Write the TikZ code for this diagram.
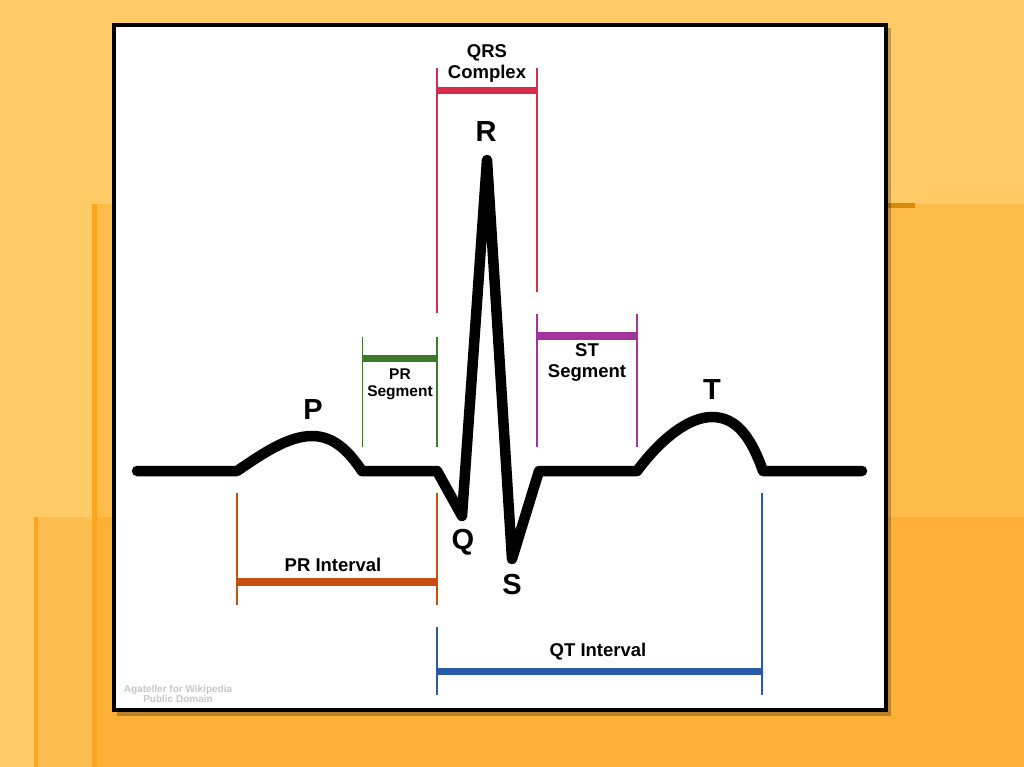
\documentclass[tikz,border=0pt]{standalone}
\usepackage{fontspec}
\setmainfont{Liberation Sans}
\definecolor{bgA}{HTML}{FECA66}
\definecolor{bgB}{HTML}{FDBB47}
\definecolor{bgC}{HTML}{FDB035}
\definecolor{bgL}{HTML}{FDBD50}
\definecolor{stripe}{HTML}{FBA520}
\definecolor{accent}{HTML}{D98A08}
\definecolor{qrsred}{HTML}{D92C4C}
\definecolor{prgreen}{HTML}{3F7A28}
\definecolor{stmag}{HTML}{A3349C}
\definecolor{prorange}{HTML}{C6500F}
\definecolor{qtblue}{HTML}{2B5AA6}
\tikzset{
  ecg/.style={line width=10.5pt, line cap=round, line join=round, black},
  tick/.style={line width=1.4pt},
  bar/.style={line width=7.5pt},
  wave/.style={font=\bfseries\fontsize{29}{29}\selectfont, inner sep=0pt},
  lab/.style={font=\bfseries\fontsize{18.5}{21}\selectfont, inner sep=0pt, align=center},
  labsm/.style={font=\bfseries\fontsize{15.5}{17}\selectfont, inner sep=0pt, align=center},
}
\begin{document}
\begin{tikzpicture}[x=1pt,y=-1pt]
\useasboundingbox (0,0) rectangle (1024,767);
% background
\fill[bgA] (0,0) rectangle (1024,767);
\fill[bgB] (92,204) rectangle (1024,767);
\fill[bgL] (35,517) rectangle (92,767);
\fill[bgC] (97,517) rectangle (1024,767);
\fill[stripe] (92,204) rectangle (97,767);
\fill[stripe] (34,517) rectangle (38,767);
\fill[accent] (887,203) rectangle (915,208);
% panel
\fill[black, opacity=0.25] (117,28) rectangle (891,716);
\filldraw[fill=white, draw=black, line width=4pt] (114,25.5) rectangle (886,710);
% ECG trace
\coordinate (s0) at (137,471);
\coordinate (p0) at (237,471);
\coordinate (pk) at (312,436);
\coordinate (p1) at (362,471);
\coordinate (q0) at (437,471);
\coordinate (qq) at (462,516);
\coordinate (rr) at (487,160);
\coordinate (ss) at (512,559);
\coordinate (s1) at (539,471);
\coordinate (t0) at (637,471);
\coordinate (tk) at (712,417);
\coordinate (t1) at (763,471);
\coordinate (e0) at (862,471);
\draw[ecg] (s0) -- (p0) .. controls (262,454) and (288,436) .. (pk)
  .. controls (333,436) and (348,450) .. (p1) -- (q0) -- (qq) -- (rr) -- (ss) -- (s1) -- (t0)
  .. controls (660,440) and (688,417) .. (tk) .. controls (738,417) and (752,440) .. (t1) -- (e0);
% wave letters
\node[wave] (P) at (313,410) {P};
\node[wave] (R) at (486,132) {R};
\node[wave] (Q) at (463,542) {Q};
\node[wave] (S) at (512,585) {S};
\node[wave] (T) at (712,390) {T};
% QRS complex
\coordinate (qa) at (437,68.5); \coordinate (qb) at (437,313);
\coordinate (qc) at (537,68.5); \coordinate (qd) at (537,292);
\draw[tick, qrsred] (qa) -- (qb);
\draw[tick, qrsred] (qc) -- (qd);
\coordinate (qbl) at (437,90.5); \coordinate (qbr) at (537,90.5);
\draw[bar, qrsred] (qbl) -- (qbr);
\node[lab] (qrs) at (487,63) {QRS\\Complex};
% PR segment
\coordinate (pga) at (362.5,337); \coordinate (pgb) at (362.5,447);
\coordinate (pgc) at (437,337); \coordinate (pgd) at (437,447);
\draw[tick, prgreen] (pga) -- (pgb);
\draw[tick, prgreen] (pgc) -- (pgd);
\coordinate (pgl) at (362.5,358.5); \coordinate (pgr) at (437,358.5);
\draw[bar, prgreen] (pgl) -- (pgr);
\node[labsm] (prs) at (400,384) {PR\\Segment};
% ST segment
\coordinate (sta) at (537,314); \coordinate (stb) at (537,447);
\coordinate (stc) at (637,314); \coordinate (std) at (637,447);
\draw[tick, stmag] (sta) -- (stb);
\draw[tick, stmag] (stc) -- (std);
\coordinate (stl) at (537,336); \coordinate (str) at (637,336);
\draw[bar, stmag] (stl) -- (str);
\node[lab] (sts) at (587,362) {ST\\Segment};
% PR interval
\coordinate (pia) at (237,493); \coordinate (pib) at (237,605);
\coordinate (pic) at (437,493); \coordinate (pid) at (437,605);
\draw[tick, prorange] (pia) -- (pib);
\draw[tick, prorange] (pic) -- (pid);
\coordinate (pil) at (237,582); \coordinate (pir) at (437,582);
\draw[bar, prorange] (pil) -- (pir);
\node[lab] (pri) at (333,565) {PR Interval};
% QT interval
\coordinate (qta) at (437,627); \coordinate (qtb) at (437,695);
\coordinate (qtc) at (762,493); \coordinate (qtd) at (762,695);
\draw[tick, qtblue] (qta) -- (qtb);
\draw[tick, qtblue] (qtc) -- (qtd);
\coordinate (qtl) at (437,671.5); \coordinate (qtr) at (762,671.5);
\draw[bar, qtblue] (qtl) -- (qtr);
\node[lab] (qti) at (598,652) {QT Interval};
% watermark
\node[font=\bfseries\fontsize{10}{9.5}\selectfont, text=black!22, align=center, inner sep=0pt] (wm) at (178,694) {Agateller for Wikipedia\\Public Domain};
\end{tikzpicture}
\end{document}
